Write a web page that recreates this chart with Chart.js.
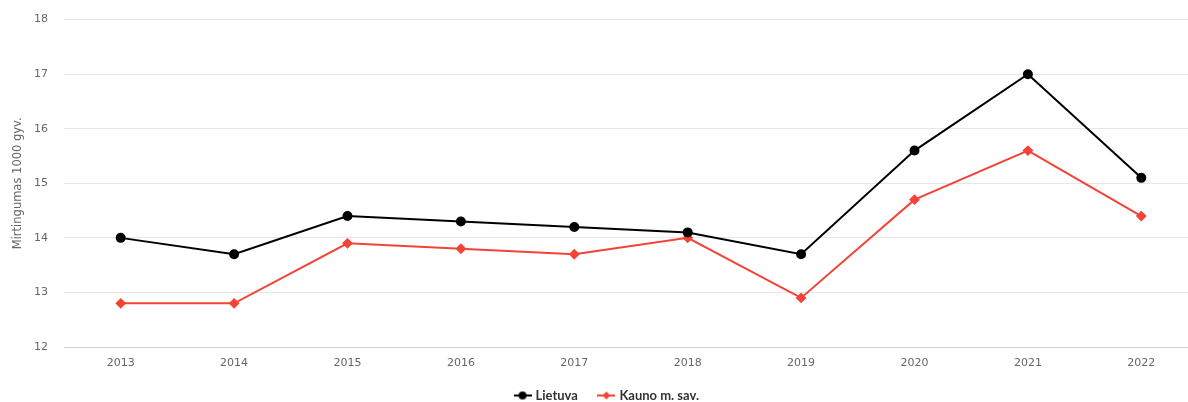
<!DOCTYPE html>
<html>
<head>
<meta charset="utf-8">
<script src="https://cdn.jsdelivr.net/npm/chart.js@4/dist/chart.umd.min.js"></script>
<style>
  html, body { margin: 0; padding: 0; background: #fff; overflow: hidden; }
  #wrap { width: 1204px; height: 415px; position: relative; margin-top: -3px; }
</style>
</head>
<body>
<div id="wrap"><canvas id="chart"></canvas></div>
<script>
// chart data
const years = ['2013', '2014', '2015', '2016', '2017', '2018', '2019', '2020', '2021', '2022'];
const lietuva = [14.0, 13.7, 14.4, 14.3, 14.2, 14.1, 13.7, 15.6, 17.0, 15.1];
const kaunas = [12.8, 12.8, 13.9, 13.8, 13.7, 14.0, 12.9, 14.7, 15.6, 14.4];
const yTicks = [12, 13, 14, 15, 16, 17, 18];

const BLACK = '#000000';
const RED = '#f44336';

// legend symbol: short line with the marker in the middle
function legendSymbol(color, shape) {
    const c = document.createElement('canvas');
    c.width = 18; c.height = 10;
    const ctx = c.getContext('2d');
    ctx.strokeStyle = color;
    ctx.fillStyle = color;
    ctx.lineWidth = 2;
    ctx.beginPath();
    ctx.moveTo(0, 5); ctx.lineTo(18, 5);
    ctx.stroke();
    ctx.beginPath();
    if (shape === 'circle') {
        ctx.arc(9, 5, 4, 0, Math.PI * 2);
    } else {
        ctx.moveTo(9, 1); ctx.lineTo(13, 5); ctx.lineTo(9, 9); ctx.lineTo(5, 5);
        ctx.closePath();
    }
    ctx.fill();
    return c;
}

const symbols = [legendSymbol(BLACK, 'circle'), legendSymbol(RED, 'diamond')];

new Chart(document.getElementById('chart'), {
    type: 'line',
    data: {
        labels: years,
        datasets: [
            {
                label: 'Lietuva',
                data: lietuva,
                borderColor: BLACK,
                backgroundColor: BLACK,
                borderWidth: 2,
                pointStyle: 'circle',
                pointRadius: 4,
                pointHoverRadius: 4,
                tension: 0
            },
            {
                label: 'Kauno m. sav.',
                data: kaunas,
                borderColor: RED,
                backgroundColor: RED,
                borderWidth: 2,
                pointStyle: 'rectRot',
                pointRadius: 4,
                pointHoverRadius: 4,
                tension: 0
            }
        ]
    },
    options: {
        responsive: true,
        maintainAspectRatio: false,
        animation: false,
        layout: { padding: { top: 10, right: 0, left: 11, bottom: 0 } },
        plugins: {
            tooltip: { enabled: false },
            legend: {
                position: 'bottom',
                labels: {
                    usePointStyle: true,
                    color: '#333333',
                    font: { family: 'Lato', size: 13, weight: 'bold' },
                    padding: 22,
                    generateLabels: (chart) => chart.data.datasets.map((ds, i) => ({
                        text: ds.label,
                        pointStyle: symbols[i],
                        fontColor: '#333333',
                        datasetIndex: i,
                        hidden: false,
                        lineWidth: 0
                    }))
                }
            }
        },
        scales: {
            x: {
                offset: true,
                grid: { display: false, drawTicks: false },
                border: { color: '#ccd6eb', width: 1 },
                afterFit: (axis) => { axis.height = 20; },
                ticks: {
                    color: '#666666',
                    font: { family: 'DejaVu Sans', size: 11 },
                    padding: 10,
                    maxRotation: 0
                }
            },
            y: {
                min: yTicks[0],
                max: yTicks[yTicks.length - 1],
                afterBuildTicks: (axis) => { axis.ticks = yTicks.map(v => ({ value: v })); },
                afterFit: (axis) => { axis.width = 53; },
                grid: { color: '#e6e6e6', drawTicks: false },
                border: { display: false },
                ticks: {
                    color: '#666666',
                    font: { family: 'DejaVu Sans', size: 11 },
                    padding: 16
                },
                title: {
                    display: true,
                    text: 'Mirtingumas 1000 gyv.',
                    color: '#666666',
                    font: { family: 'DejaVu Sans', size: 11.5 },
                    padding: 0
                }
            }
        }
    }
});
</script>
</body>
</html>
